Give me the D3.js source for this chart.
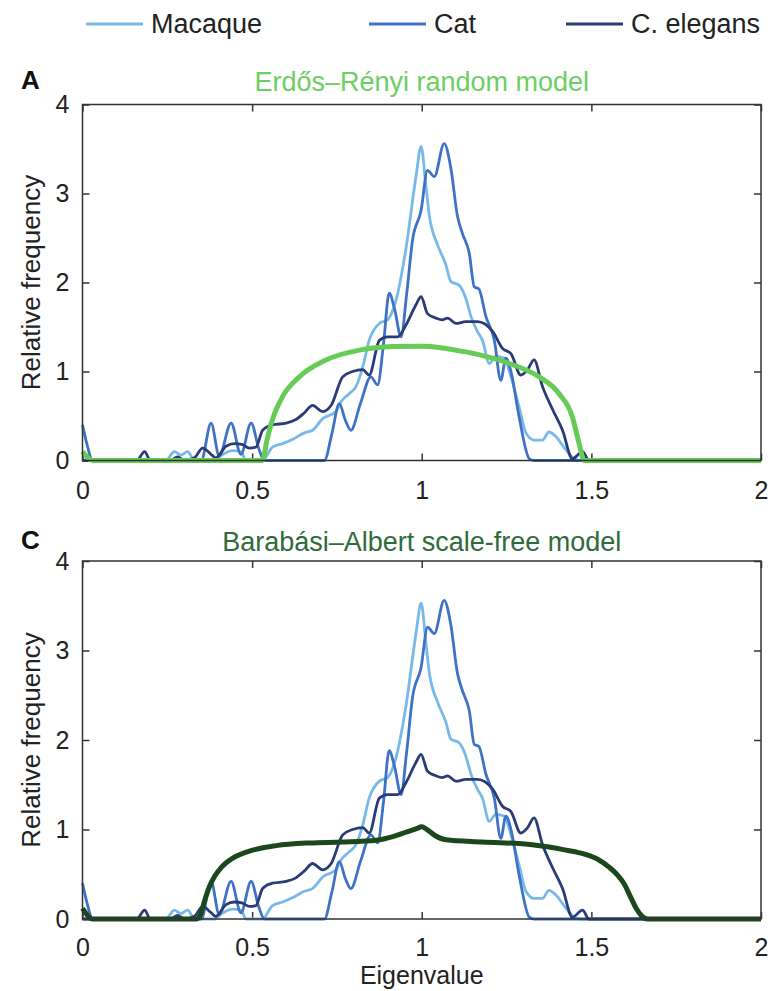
<!DOCTYPE html>
<html>
<head>
<meta charset="utf-8">
<script src="https://cdn.jsdelivr.net/npm/d3@7"></script>
<style>
  body { margin: 0; background: #fff; }
  svg text { font-family: "Liberation Sans", Arial, Helvetica, sans-serif; fill: #222; }
</style>
</head>
<body>
<script>
// eigenvalue spectra as [eigenvalue, relative frequency]
const macaque = [[0,0],[0.245,0],[0.271,0.10],[0.29,0.06],[0.31,0.10],[0.33,0],[0.39,0],[0.41,0.06],[0.443,0.11],
  [0.467,0.10],[0.482,0],[0.53,0],[0.56,0.15],[0.59,0.19],[0.62,0.24],[0.654,0.31],[0.678,0.34],[0.708,0.47],
  [0.747,0.55],[0.762,0.66],[0.786,0.75],[0.806,0.83],[0.826,1.05],[0.845,1.35],[0.875,1.54],[0.899,1.58],
  [0.924,1.80],[0.953,2.37],[0.983,3.19],[0.998,3.53],[1.012,3.10],[1.022,2.76],[1.047,2.42],[1.071,2.20],
  [1.086,2.01],[1.110,1.97],[1.130,1.82],[1.145,1.62],[1.164,1.45],[1.179,1.35],[1.199,1.09],[1.218,1.17],
  [1.243,1.15],[1.263,0.94],[1.287,0.60],[1.307,0.31],[1.331,0.23],[1.356,0.23],[1.375,0.32],[1.395,0.27],
  [1.425,0.12],[1.454,0.01],[1.47,0],[2,0]];

const cat = [[0,0.40],[0.012,0.2],[0.03,0],[0.35,0],[0.379,0.42],[0.403,0.05],[0.438,0.42],[0.467,0.07],
  [0.497,0.42],[0.52,0.13],[0.536,0],[0.713,0],[0.735,0.3],[0.757,0.64],[0.775,0.45],[0.791,0.34],[0.82,0.65],
  [0.850,0.94],[0.870,0.85],[0.887,1.3],[0.904,1.88],[0.92,1.7],[0.939,1.39],[0.955,1.85],[0.973,2.48],
  [0.998,2.81],[1.017,3.26],[1.037,3.19],[1.066,3.56],[1.086,3.28],[1.105,2.75],[1.12,2.55],[1.14,2.33],
  [1.155,1.95],[1.168,1.93],[1.189,1.62],[1.214,1.35],[1.233,0.90],[1.248,1.15],[1.263,1.0],[1.287,0.49],
  [1.317,0.02],[1.33,0],[2,0]];

const elegans = [[0,0],[0.16,0],[0.183,0.10],[0.2,0],[0.26,0],[0.28,0.04],[0.30,0],[0.33,0.03],[0.354,0.14],
  [0.379,0.07],[0.393,0.03],[0.423,0.16],[0.448,0.19],[0.47,0.18],[0.492,0.14],[0.511,0.15],[0.531,0.34],
  [0.56,0.40],[0.60,0.42],[0.629,0.46],[0.655,0.54],[0.678,0.62],[0.708,0.55],[0.733,0.62],[0.767,0.94],
  [0.796,1.00],[0.826,1.02],[0.845,0.96],[0.875,1.35],[0.899,1.39],[0.929,1.39],[0.953,1.52],[0.983,1.75],
  [0.998,1.84],[1.017,1.65],[1.042,1.60],[1.06,1.58],[1.076,1.60],[1.101,1.54],[1.13,1.56],[1.150,1.56],
  [1.164,1.56],[1.209,1.45],[1.238,1.26],[1.263,1.20],[1.292,0.96],[1.312,1.02],[1.331,1.13],[1.356,0.83],
  [1.386,0.57],[1.415,0.34],[1.444,0.02],[1.474,0.10],[1.493,0],[2,0]];

// model spectra
const erdosRenyi = [[0,0.10],[0.03,0],[0.53,0],[0.545,0.25],[0.56,0.46],[0.59,0.72],[0.639,0.94],[0.718,1.13],
  [0.816,1.24],[0.914,1.28],[1.0,1.285],[1.13,1.22],[1.258,1.09],[1.346,0.94],[1.405,0.75],[1.444,0.49],
  [1.464,0.19],[1.479,0],[2,0]];

const barabasiAlbert = [[0,0.12],[0.03,0],[0.336,0],[0.348,0.05],[0.358,0.18],[0.374,0.36],[0.39,0.48],
  [0.41,0.58],[0.443,0.68],[0.502,0.77],[0.571,0.82],[0.669,0.85],[0.767,0.86],[0.866,0.88],[0.915,0.92],
  [0.954,0.97],[0.985,1.01],[1.0,1.03],[1.015,1.00],[1.04,0.93],[1.071,0.885],[1.179,0.86],[1.326,0.83],
  [1.425,0.77],[1.48,0.725],[1.52,0.665],[1.552,0.58],[1.575,0.50],[1.597,0.39],[1.615,0.25],[1.632,0.12],
  [1.648,0.035],[1.666,0],[2,0]];

const xTicks = [0, 0.5, 1, 1.5, 2];
const yTicks = [0, 1, 2, 3, 4];

const seriesNames = ['Macaque', 'Cat', 'C. elegans'];
const seriesData = [macaque, cat, elegans];
const seriesColors = ['#78b9e8', '#3d72c6', '#2a3b78'];

const width = 768, height = 991;
const left = 82.5, right = 761;

const svg = d3.select('body').append('svg')
    .attr('width', width)
    .attr('height', height);

const x = d3.scaleLinear().domain([0, 2]).range([left, right]);

const line = d3.line()
    .x(d => x(d[0]))
    .curve(d3.curveMonotoneX);

// legend
const legendX = [86, 369, 566];
const legend = svg.append('g').attr('class', 'legend');
seriesNames.forEach(function (name, i) {
    legend.append('line')
        .attr('x1', legendX[i]).attr('x2', legendX[i] + 57)
        .attr('y1', 24).attr('y2', 24)
        .attr('stroke', seriesColors[i])
        .attr('stroke-width', 3);
    legend.append('text')
        .attr('x', legendX[i] + 65)
        .attr('y', 33)
        .attr('font-size', 27)
        .text(name);
});

function drawPanel(p) {
    const y = d3.scaleLinear().domain([0, 4]).range([p.bottom, p.top]);
    const g = svg.append('g');

    g.append('text')
        .attr('x', 21).attr('y', p.labelY)
        .attr('font-size', 26)
        .attr('font-weight', 'bold')
        .style('fill', '#111')
        .text(p.label);

    g.append('text')
        .attr('x', (left + right) / 2).attr('y', p.titleY)
        .attr('text-anchor', 'middle')
        .attr('font-size', 27)
        .style('fill', p.titleColor)
        .text(p.title);

    g.append('text')
        .attr('transform', 'translate(40,' + (p.top + p.bottom) / 2 + ') rotate(-90)')
        .attr('text-anchor', 'middle')
        .attr('font-size', 26)
        .text('Relative frequency');

    const axes = [
        {ax: d3.axisBottom(x).tickValues(xTicks).tickFormat(d3.format('')), t: 'translate(0,' + p.bottom + ')', pad: p.xPad},
        {ax: d3.axisTop(x).tickValues(xTicks).tickFormat(''), t: 'translate(0,' + p.top + ')', pad: 0},
        {ax: d3.axisLeft(y).tickValues(yTicks).tickFormat(d3.format('')), t: 'translate(' + left + ',0)', pad: 13},
        {ax: d3.axisRight(y).tickValues(yTicks).tickFormat(''), t: 'translate(' + right + ',0)', pad: 0}
    ];
    axes.forEach(function (a) {
        const ag = g.append('g')
            .attr('transform', a.t)
            .call(a.ax.tickSizeInner(-7).tickSizeOuter(0).tickPadding(a.pad));
        ag.select('.domain').remove();
        ag.selectAll('line').attr('stroke', '#333').attr('stroke-width', 1.5);
        ag.selectAll('text')
            .attr('font-size', 25)
            .attr('font-family', '"Liberation Sans", Arial, sans-serif')
            .attr('fill', '#222');
    });

    const plot = g.append('g');
    seriesData.forEach(function (data, i) {
        plot.append('path')
            .datum(data)
            .attr('d', line.y(d => y(d[1])))
            .attr('fill', 'none')
            .attr('stroke', seriesColors[i])
            .attr('stroke-width', 2.8)
            .attr('stroke-linejoin', 'round');
    });
    plot.append('path')
        .datum(p.model)
        .attr('d', line.y(d => y(d[1])))
        .attr('fill', 'none')
        .attr('stroke', p.modelColor)
        .attr('stroke-width', 5)
        .attr('stroke-linejoin', 'round');

    g.append('rect')
        .attr('x', left).attr('y', p.top)
        .attr('width', right - left).attr('height', p.bottom - p.top)
        .attr('fill', 'none')
        .attr('stroke', '#333')
        .attr('stroke-width', 1.5);
}

drawPanel({label: 'A', labelY: 89, title: 'Erdős–Rényi random model', titleY: 91, titleColor: '#6ccf62',
    model: erdosRenyi, modelColor: '#66cc55', top: 104.5, bottom: 460.5, xPad: 21});
drawPanel({label: 'C', labelY: 549, title: 'Barabási–Albert scale-free model', titleY: 551, titleColor: '#2f6b3a',
    model: barabasiAlbert, modelColor: '#1b471d', top: 561, bottom: 919, xPad: 19});

svg.append('text')
    .attr('x', (left + right) / 2).attr('y', 984)
    .attr('text-anchor', 'middle')
    .attr('font-size', 25)
    .text('Eigenvalue');
</script>
</body>
</html>
